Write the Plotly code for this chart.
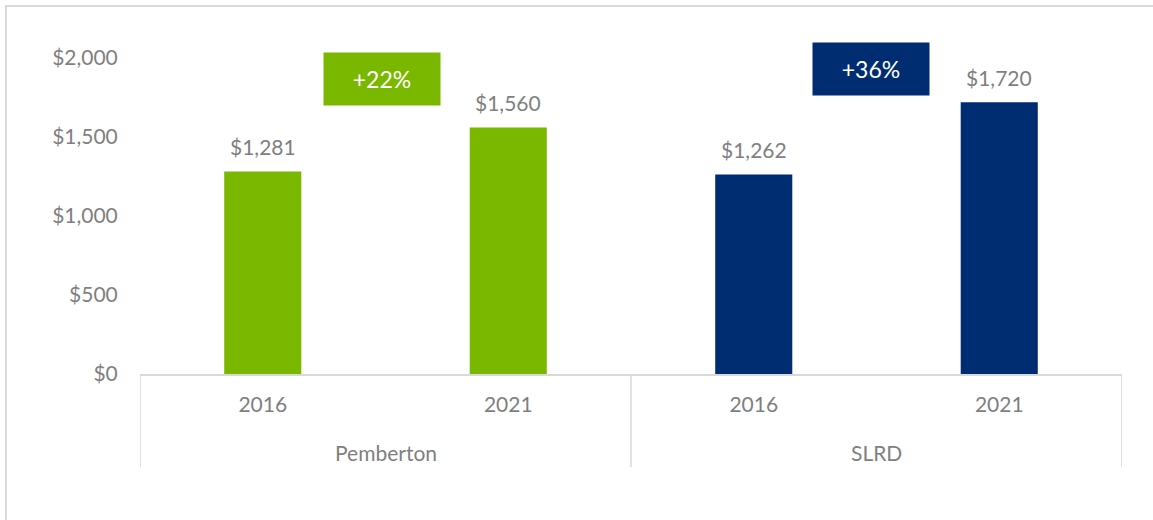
import plotly.graph_objects as go

regions = ["Pemberton", "Pemberton", "SLRD", "SLRD"]
years = ["2016", "2021", "2016", "2021"]
values = [1281, 1560, 1262, 1720]
bar_colors = ["#7AB800", "#7AB800", "#002D72", "#002D72"]
group_names = ["Pemberton", "SLRD"]
change_labels = ["+22%", "+36%"]
change_colors = ["#7AB800", "#002D72"]
change_y = [1867, 1930]
y_ticks = [0, 500, 1000, 1500, 2000]

FONT = "Lato"
GRAY = "#7F7F7F"
LINE = "#D9D9D9"

W, H = 1153, 520
L, R, T, B = 140, 31, 58, 146
PH = H - T - B

xs = list(range(len(values)))

fig = go.Figure()
fig.add_trace(go.Bar(
    x=xs, y=values, marker=dict(color=bar_colors, line=dict(width=0)),
    hoverinfo="skip", showlegend=False,
))

annotations = []
for x, v in zip(xs, values):
    annotations.append(dict(
        x=x, y=v, xref="x", yref="y", text=f"${v:,}", showarrow=False,
        yanchor="middle", yshift=25, font=dict(family=FONT, size=21, color=GRAY),
    ))

# group labels & change boxes
for gi, g in enumerate(group_names):
    idx = [i for i, r in enumerate(regions) if r == g]
    cx = sum(idx) / len(idx)
    annotations.append(dict(
        x=cx, y=-(452 - 374) / PH, xref="x", yref="paper", text=g, showarrow=False,
        yanchor="middle", font=dict(family=FONT, size=21, color=GRAY),
    ))
    annotations.append(dict(
        x=cx, y=change_y[gi], xref="x", yref="y", text=change_labels[gi], showarrow=False,
        xanchor="center", yanchor="middle", xshift=-4 if gi == 0 else -6,
        width=116, height=52, bgcolor=change_colors[gi], borderpad=0,
        font=dict(family=FONT, size=23, color="white"),
    ))

shapes = []
# separators between groups and at ends
for xv in [-0.5, 1.5, 3.5]:
    shapes.append(dict(
        type="line", xref="x", yref="paper", x0=xv, x1=xv, y0=0, y1=-(467 - 374) / PH,
        line=dict(color=LINE, width=1.5),
    ))
# outer border (only left and top edges visible)
shapes.append(dict(
    type="rect", xref="paper", yref="paper",
    x0=(6 - L) / (W - L - R), x1=(1180 - L) / (W - L - R),
    y0=(T + PH - 540) / PH, y1=(T + PH - 6) / PH,
    line=dict(color=LINE, width=2), fillcolor="rgba(0,0,0,0)", layer="below",
))

fig.update_layout(
    width=W, height=H,
    margin=dict(l=L, r=R, t=T, b=B),
    paper_bgcolor="white", plot_bgcolor="white",
    bargap=0.686,
    annotations=annotations, shapes=shapes,
    font=dict(family=FONT, size=21, color=GRAY),
    xaxis=dict(
        tickmode="array", tickvals=xs, ticktext=years, range=[-0.5, 3.5],
        showline=True, linecolor=LINE, linewidth=1.5, showgrid=False, zeroline=False,
        ticks="outside", ticklen=11, tickcolor="rgba(0,0,0,0)",
        tickfont=dict(family=FONT, size=21, color=GRAY), fixedrange=True,
    ),
    yaxis=dict(
        range=[0, 2000], tickmode="array", tickvals=y_ticks,
        ticktext=[f"${v:,}" for v in y_ticks],
        showgrid=False, zeroline=False, showline=False,
        ticks="outside", ticklen=17, tickcolor="rgba(0,0,0,0)",
        tickfont=dict(family=FONT, size=21, color=GRAY), fixedrange=True,
    ),
)

fig.write_html(
    "out.html",
    config={"displayModeBar": False},
    post_script="document.body.style.margin='0';document.body.style.overflow='hidden';",
)
